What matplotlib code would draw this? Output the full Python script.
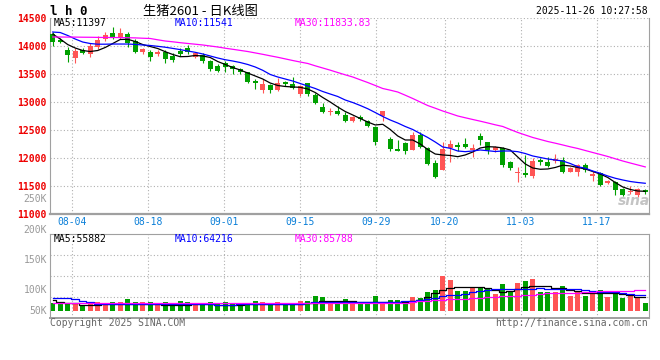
import matplotlib
matplotlib.use("Agg")
import matplotlib.pyplot as plt

# 生猪2601 daily K, 2025-07-30 .. 2025-11-26 (80 sessions)
opens = [14208, 14106, 13927, 13789, 13927, 13855, 13975, 14118, 14237, 14136,
         14208, 14093, 13886, 13886, 13850, 13897, 13825, 13915, 13957, 13802,
         13832, 13734, 13641, 13700, 13635, 13587, 13539, 13381, 13206, 13301,
         13211, 13360, 13318, 13139, 13331, 13122, 12912, 12812, 12840, 12763,
         12661, 12733, 12656, 12554, 12746, 12334, 12155, 12271, 12142, 12405,
         12167, 11910, 11784, 12173, 12218, 12239, 12142, 12393, 12286, 12137,
         12167, 11928, 11720, 11731, 11677, 11958, 11928, 11940, 11958, 11749,
         11749, 11868, 11677, 11731, 11541, 11570, 11439, 11385, 11337, 11416]
highs = [14244, 14147, 13986, 13957, 13968, 14047, 14178, 14244, 14333, 14315,
         14244, 14118, 13968, 13927, 13927, 13927, 13868, 13957, 14017, 13897,
         13868, 13748, 13676, 13736, 13658, 13599, 13539, 13403, 13403, 13318,
         13420, 13377, 13438, 13301, 13342, 13152, 12973, 12883, 12925, 12822,
         12746, 12763, 12674, 12567, 12840, 12375, 12316, 12286, 12454, 12465,
         12185, 11958, 12275, 12316, 12286, 12357, 12244, 12447, 12286, 12214,
         12196, 11945, 11827, 12047, 11999, 11999, 12017, 12060, 12017, 11838,
         11881, 11899, 11761, 11749, 11600, 11582, 11451, 11493, 11451, 11439]
lows = [13999, 14047, 13718, 13700, 13855, 13807, 13940, 14093, 14118, 14118,
        13975, 13879, 13855, 13736, 13825, 13689, 13718, 13825, 13855, 13778,
        13700, 13560, 13528, 13539, 13497, 13492, 13331, 13224, 13152, 13163,
        13199, 13288, 13224, 13104, 13109, 12960, 12805, 12763, 12763, 12644,
        12633, 12661, 12554, 12235, 12661, 12119, 12124, 12065, 12142, 12167,
        11868, 11641, 11779, 11928, 12124, 12178, 12017, 12227, 12065, 12096,
        11838, 11779, 11570, 11659, 11641, 11868, 11838, 11899, 11731, 11749,
        11677, 11749, 11582, 11498, 11528, 11331, 11314, 11349, 11296, 11349]
closes = [14076, 14076, 13838, 13915, 13879, 14004, 14106, 14195, 14136, 14226,
          14047, 13897, 13945, 13807, 13897, 13761, 13748, 13850, 13886, 13882,
          13730, 13583, 13551, 13628, 13590, 13528, 13360, 13336, 13327, 13206,
          13331, 13313, 13241, 13283, 13139, 12984, 12822, 12840, 12781, 12661,
          12733, 12686, 12572, 12286, 12840, 12155, 12124, 12119, 12405, 12191,
          11892, 11659, 12151, 12244, 12196, 12196, 12167, 12316, 12142, 12196,
          11868, 11809, 11749, 11690, 11940, 11928, 11856, 11970, 11749, 11809,
          11868, 11779, 11707, 11510, 11582, 11421, 11337, 11409, 11439, 11385]

ma5 = [14213, 14124, 14025, 13963, 13918, 13900, 13918, 13972, 14043, 14115,
       14119, 14079, 14025, 13990, 13954, 13897, 13847, 13807, 13811, 13829,
       13820, 13793, 13721, 13668, 13614, 13569, 13515, 13462, 13408, 13336,
       13292, 13274, 13265, 13259, 13229, 13166, 13077, 12996, 12907, 12826,
       12764, 12701, 12638, 12585, 12597, 12504, 12388, 12316, 12316, 12244,
       12146, 12065, 12048, 12039, 12017, 12048, 12101, 12173, 12196, 12191,
       12173, 12137, 12012, 11887, 11815, 11792, 11797, 11824, 11865, 11851,
       11824, 11797, 11752, 11707, 11645, 11555, 11475, 11430, 11403, 11397]
ma10 = [14249, 14240, 14187, 14124, 14070, 14043, 14031, 14031, 14034, 14034,
        14034, 14027, 14017, 14008, 13993, 13977, 13956, 13934, 13909, 13886,
        13856, 13820, 13784, 13753, 13730, 13703, 13668, 13623, 13564, 13489,
        13444, 13408, 13372, 13327, 13283, 13238, 13184, 13139, 13095, 13032,
        12987, 12934, 12876, 12808, 12737, 12674, 12620, 12558, 12504, 12432,
        12361, 12280, 12191, 12167, 12119, 12107, 12119, 12137, 12124, 12110,
        12119, 12119, 12107, 12074, 12030, 12003, 11976, 11958, 11940, 11895,
        11838, 11810, 11761, 11720, 11672, 11631, 11600, 11573, 11555, 11541]
ma30 = [14160, 14160, 14158, 14158, 14156, 14155, 14153, 14151, 14151, 14149,
        14147, 14144, 14138, 14133, 14110, 14088, 14074, 14058, 14044, 14031,
        14017, 13999, 13981, 13959, 13940, 13920, 13900, 13875, 13850, 13823,
        13797, 13768, 13739, 13712, 13686, 13644, 13605, 13566, 13524, 13483,
        13444, 13394, 13345, 13292, 13238, 13208, 13175, 13118, 13059, 12996,
        12933, 12885, 12835, 12791, 12746, 12714, 12683, 12653, 12621, 12588,
        12558, 12504, 12451, 12406, 12361, 12325, 12289, 12259, 12227, 12194,
        12164, 12128, 12092, 12057, 12021, 11980, 11940, 11904, 11869, 11834]

# volume, thousands of lots
volume = [33.2, 33.2, 27.8, 27.8, 23.7, 34.9, 34.9, 27.8, 34.9, 34.9,
          48.6, 34.9, 34.9, 34.9, 23.7, 34.9, 30.7, 40.3, 34.9, 27.8,
          27.8, 34.9, 27.8, 34.9, 27.8, 23.7, 30.7, 40.3, 34.9, 27.8,
          34.9, 27.8, 30.7, 40.3, 40.3, 61.0, 58.1, 41.5, 41.5, 48.6,
          34.9, 30.7, 33.2, 61.0, 30.7, 44.4, 44.4, 40.3, 58.1, 54.0,
          78.9, 85.9, 145.3, 127.4, 81.8, 81.8, 99.6, 93.0, 93.0, 69.3,
          110.8, 81.8, 116.2, 123.3, 131.6, 78.9, 78.9, 78.9, 102.5, 62.3,
          78.9, 62.3, 72.2, 85.9, 58.1, 81.8, 54.0, 62.3, 54.0, 33.2]
vma5 = [43.2, 37.4, 34.0, 30.7, 23.7, 23.7, 23.7, 26.6, 26.6, 26.6,
        29.1, 29.1, 29.1, 29.1, 27.8, 23.7, 23.7, 23.7, 23.7, 27.8,
        27.8, 29.1, 23.7, 23.7, 23.7, 23.7, 26.6, 26.6, 26.6, 26.6,
        27.8, 27.8, 27.8, 29.1, 32.0, 33.2, 38.2, 40.3, 40.3, 40.3,
        40.3, 36.1, 34.9, 34.9, 34.9, 34.9, 34.9, 34.9, 42.3, 44.4,
        56.9, 73.5, 85.9, 94.2, 98.4, 99.6, 99.6, 99.6, 94.2, 85.9,
        78.9, 81.8, 90.1, 99.6, 103.8, 103.8, 102.5, 95.5, 94.2, 85.9,
        79.7, 74.7, 74.7, 73.5, 72.2, 72.2, 68.1, 65.2, 58.1, 55.9]
vma10 = [51.5, 51.5, 51.5, 48.6, 40.3, 37.4, 29.1, 29.1, 29.1, 29.1,
         29.1, 29.1, 29.1, 27.8, 27.8, 27.8, 27.8, 27.8, 27.8, 27.8,
         27.8, 26.6, 23.7, 23.7, 23.7, 26.6, 26.6, 26.6, 27.8, 27.8,
         27.8, 27.8, 27.8, 29.1, 32.0, 34.9, 34.9, 34.9, 36.1, 37.4,
         37.4, 37.4, 37.4, 37.4, 37.4, 37.4, 37.4, 38.2, 40.3, 44.4,
         48.6, 52.7, 61.0, 63.1, 65.2, 69.3, 77.6, 81.8, 85.9, 88.0,
         90.1, 90.1, 90.1, 90.1, 92.1, 93.0, 92.1, 90.1, 90.1, 90.1,
         88.0, 84.7, 83.8, 78.9, 78.9, 78.9, 75.5, 70.6, 67.2, 64.2]
vma30 = [34.0, 34.0, 34.0, 34.0, 34.0, 34.0, 34.0, 34.0, 34.0, 34.0,
         34.0, 34.0, 34.0, 34.0, 34.0, 34.0, 34.0, 34.0, 34.0, 34.0,
         34.0, 34.0, 34.0, 34.0, 34.0, 29.9, 29.9, 29.9, 29.9, 29.9,
         29.9, 29.9, 29.9, 29.9, 29.9, 29.9, 33.2, 33.2, 33.2, 33.2,
         33.2, 33.2, 33.2, 33.2, 33.2, 33.2, 33.2, 33.2, 36.1, 40.3,
         41.5, 43.2, 44.4, 46.5, 48.6, 50.6, 52.7, 54.0, 55.6, 57.7,
         59.3, 61.0, 62.3, 63.9, 65.2, 69.3, 72.2, 72.2, 72.2, 73.5,
         75.5, 77.6, 78.9, 79.7, 80.5, 81.8, 83.0, 83.8, 84.7, 85.8]

date_labels = ["08-04", "08-18", "09-01", "09-15", "09-29", "10-20", "11-03", "11-17"]
date_idx = [3, 13, 23, 33, 43, 52, 62, 72]
price_ticks = [11000, 11500, 12000, 12500, 13000, 13500, 14000, 14500]
price_legend = ["MA5:11397", "MA10:11541", "MA30:11833.83"]
vol_legend = ["MA5:55882", "MA10:64216", "MA30:85788"]
vol_axis_labels = ["250K", "200K", "150K", "100K", "50K"]

RED = "#ff5555"
GREEN = "#00a000"
GRID = "#b0b0b0"
FRAME = "#a0a0a0"
MONO = "DejaVu Sans Mono"
LINE_COLORS = ["black", "#0000ff", "#ff00ff"]

W, H = 660, 360
fig = plt.figure(figsize=(W / 100, H / 100), dpi=100)


def axes_px(left, top, right, bottom):
    return fig.add_axes([left / W, 1 - bottom / H, (right - left) / W, (bottom - top) / H])


def text_px(x, y, s, **kw):
    fig.text(x / W, 1 - y / H, s, va="center", **kw)


ax = axes_px(50, 18, 649, 213.5)
axv = axes_px(50, 234, 649, 318)

n = len(closes)
xs = list(range(n))
colors = [RED if c >= o else GREEN for o, c in zip(opens, closes)]
# sina's date grid runs a touch wider than the candle step
grid_x = [d * 1.0133 - 0.43 for d in date_idx]

# price panel
ax.vlines(xs, lows, highs, colors=colors, lw=0.8, zorder=2)
body_lo = [min(o, c) for o, c in zip(opens, closes)]
body_h = [max(abs(c - o), 16) for o, c in zip(opens, closes)]
ax.bar(xs, body_h, bottom=body_lo, width=0.68, color=colors, lw=0, zorder=3)
for series, col in zip([ma5, ma10, ma30], LINE_COLORS):
    ax.plot(xs, series, color=col, lw=0.9, zorder=4)

ax.set_xlim(-0.36, 79.5)
ax.set_ylim(11000, 14500)
ax.set_yticks(price_ticks)
ax.set_yticklabels([str(p) for p in price_ticks], color="#ee0000", family=MONO,
                   weight="bold", fontsize=7)
ax.set_xticks(grid_x)
ax.set_xticklabels(date_labels, color="#0a7fd8", family=MONO, fontsize=7)
ax.tick_params(axis="both", length=0, pad=2.5)
ax.grid(True, color=GRID, linestyle=(0, (1, 2)), lw=0.8)
ax.set_axisbelow(True)
ax.spines["top"].set_visible(False)
for side in ["left", "right", "bottom"]:
    ax.spines[side].set_color(FRAME)
ax.spines["bottom"].set_linewidth(1.6)

# volume panel
axv.bar(xs, volume, width=0.72, color=colors, lw=0, zorder=2)
for series, col in zip([vma5, vma10, vma30], LINE_COLORS):
    axv.plot(xs, series, color=col, lw=0.9, drawstyle="steps-mid", zorder=3)
vlo, vhi = -30.3, 318.3
axv.set_xlim(-0.36, 79.5)
axv.set_ylim(vlo, vhi)
axv.set_yticks([vlo + f * (vhi - vlo) for f in (0.25, 0.5, 0.75)])
axv.set_yticklabels([])
axv.set_xticks(grid_x)
axv.set_xticklabels([])
axv.tick_params(axis="both", length=0)
axv.grid(True, color=GRID, linestyle=(0, (1, 2)), lw=0.8)
axv.set_axisbelow(True)
for side in axv.spines:
    axv.spines[side].set_color(FRAME)
axv.spines["bottom"].set_linewidth(1.4)

# header
text_px(50, 11.5, "l h 0", family=MONO, weight="bold", fontsize=9)
text_px(200, 11, "生猪2601 - 日K线图", ha="center",
        family=["Noto Sans CJK SC", "DejaVu Sans"], fontsize=9.5)
text_px(648, 11.5, "2025-11-26 10:27:58", ha="right", family=MONO, fontsize=7)

for xp, s, col in zip([54, 175, 295], price_legend, LINE_COLORS):
    text_px(xp, 23, s, color=col, family=MONO, fontsize=7)
for xp, s, col in zip([54, 175, 295], vol_legend, LINE_COLORS):
    text_px(xp, 238.5, s, color=col, family=MONO, fontsize=7)

# sina's left-hand volume scale labels (drawn where sina puts them)
for yp, s in zip([199.5, 230, 260, 290, 311], vol_axis_labels):
    text_px(47, yp, s, ha="right", color="#999999", family=MONO, fontsize=7)

text_px(634, 201, "sina", ha="center", color="#c4c4c4", family="DejaVu Sans",
        style="italic", weight="bold", fontsize=10)
text_px(50, 323.5, "Copyright 2025 SINA.COM", color="#666666", family=MONO, fontsize=7)
text_px(648, 323.5, "http://finance.sina.com.cn", ha="right", color="#666666", family=MONO, fontsize=7)

fig.savefig("out.png", dpi=100, facecolor="white")
